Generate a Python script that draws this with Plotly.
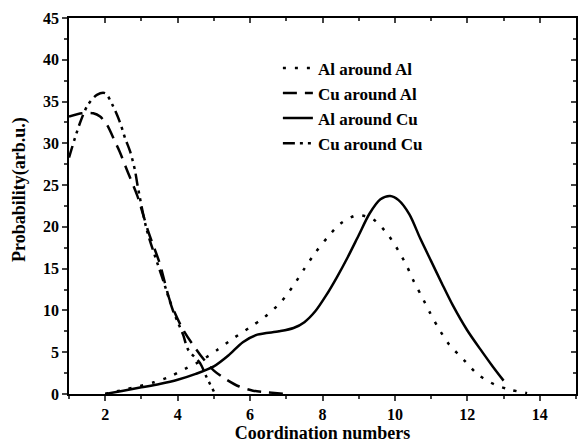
import plotly.graph_objects as go

# Al around Al (dotted)
al_al_x = [2.0, 2.5, 2.9, 3.35, 3.8, 4.2, 4.65, 5.1, 5.55, 6.0, 6.4, 6.85, 7.2, 7.5, 7.8, 8.13, 8.5, 8.96, 9.4, 9.8, 10.09, 10.33, 10.53, 10.75, 10.97, 11.2, 11.5, 11.9, 12.3, 12.77, 13.2, 13.65]
al_al_y = [0.0, 0.5, 0.9, 1.4, 2.1, 3.0, 4.0, 5.3, 6.7, 8.0, 9.2, 11.0, 13.0, 15.0, 16.9, 18.7, 20.4, 21.4, 20.9, 19.1, 17.2, 15.3, 13.4, 11.6, 9.7, 7.9, 5.9, 4.1, 2.3, 1.1, 0.5, 0.1]

# Cu around Al (dashed)
cu_al_x = [1.0, 1.36, 1.67, 1.86, 2.05, 2.27, 2.4, 2.6, 2.88, 3.2, 3.5, 3.8, 4.15, 4.62, 5.0, 5.36, 5.7, 6.08, 6.5, 7.0]
cu_al_y = [33.2, 33.6, 33.6, 33.2, 32.2, 30.2, 29.0, 26.8, 23.8, 19.3, 15.7, 11.0, 7.7, 4.7, 2.8, 1.7, 0.9, 0.4, 0.2, 0.0]

# Al around Cu (solid)
al_cu_x = [2.0, 2.5, 3.0, 3.5, 4.0, 4.5, 5.0, 5.4, 5.8, 6.2, 6.8, 7.2, 7.5, 7.8, 8.1, 8.4, 8.7, 9.0, 9.3, 9.6, 9.87, 10.1, 10.4, 10.7, 11.0, 11.3, 11.6, 12.0, 12.4, 12.7, 13.0]
al_cu_y = [0.0, 0.4, 0.8, 1.2, 1.7, 2.4, 3.3, 4.6, 6.2, 7.1, 7.5, 7.9, 8.6, 9.9, 11.8, 14.0, 16.4, 19.0, 21.6, 23.3, 23.7, 23.2, 21.5, 18.6, 15.9, 13.2, 10.6, 7.6, 5.1, 3.3, 1.6]

# Cu around Cu (dash-dot)
cu_cu_x = [1.0, 1.3, 1.52, 1.77, 2.0, 2.2, 2.4, 2.55, 2.69, 2.82, 2.9, 3.15, 3.6, 3.87, 4.15, 4.29, 4.62, 4.8, 5.0]
cu_cu_y = [28.3, 32.4, 34.6, 35.8, 36.0, 34.6, 32.6, 30.6, 29.0, 26.8, 24.8, 19.6, 13.6, 10.0, 7.1, 5.3, 3.7, 2.0, 0.3]

x_ticks = [2, 4, 6, 8, 10, 12, 14]
y_ticks = [0, 5, 10, 15, 20, 25, 30, 35, 40, 45]

font = "Liberation Serif"
fig = go.Figure()
series = [
    ("Al around Al", al_al_x, al_al_y, "3px,9px"),
    ("Cu around Al", cu_al_x, cu_al_y, "14px,8px"),
    ("Al around Cu", al_cu_x, al_cu_y, "solid"),
    ("Cu around Cu", cu_cu_x, cu_cu_y, "12px,5px,3px,5px,3px,5px"),
]
for name, xs, ys, dash in series:
    fig.add_trace(go.Scatter(x=xs, y=ys, mode="lines", name=name,
                             line=dict(color="black", width=2.5, dash=dash, shape="spline", smoothing=0.8)))

# invisible trace for mirrored inside ticks on top/right
fig.add_trace(go.Scatter(x=[1, 15], y=[0, 45], mode="lines", xaxis="x2", yaxis="y2",
                         line=dict(width=0), showlegend=False, hoverinfo="skip"))

bold = dict(family=font, color="black", weight="bold")
fig.update_layout(
    width=581, height=446,
    margin=dict(l=69, r=5, t=18, b=52),
    plot_bgcolor="white", paper_bgcolor="white",
    font=dict(family=font, size=14, color="black", weight="bold"),
    showlegend=True,
    legend=dict(x=0.412, y=0.914, xanchor="left", yanchor="top",
                bgcolor="rgba(0,0,0,0)", font=dict(size=17, **bold),
                tracegroupgap=0),
    xaxis=dict(range=[1, 15], tickvals=x_ticks, ticktext=["<b>%d</b>" % v for v in x_ticks],
               ticks="outside", ticklen=5, tickwidth=1.5,
               showline=True, linecolor="black", linewidth=1.5, showgrid=False, zeroline=False,
               minor=dict(dtick=1, tick0=1, ticks="outside", ticklen=3, tickwidth=1.5),
               tickfont=dict(size=16, **bold),
               title=dict(text="Coordination numbers", font=dict(size=18, **bold), standoff=4)),
    yaxis=dict(range=[0, 45], tickvals=y_ticks, ticktext=["<b>%d</b>" % v for v in y_ticks],
               ticks="outside", ticklen=5, tickwidth=1.5,
               showline=True, linecolor="black", linewidth=1.5, showgrid=False, zeroline=False,
               minor=dict(dtick=2.5, tick0=0, ticks="outside", ticklen=3, tickwidth=1.5),
               tickfont=dict(size=16, **bold)),
    xaxis2=dict(range=[1, 15], overlaying="x", side="top", tickvals=x_ticks, ticks="inside",
                ticklen=5, tickwidth=1.5, showticklabels=False, showline=True, linecolor="black",
                linewidth=1.5, showgrid=False, zeroline=False,
                minor=dict(dtick=1, tick0=1, ticks="inside", ticklen=3, tickwidth=1.5)),
    yaxis2=dict(range=[0, 45], overlaying="y", side="right", tickvals=y_ticks, ticks="inside",
                ticklen=5, tickwidth=1.5, showticklabels=False, showline=True, linecolor="black",
                linewidth=1.5, showgrid=False, zeroline=False,
                minor=dict(dtick=2.5, tick0=0, ticks="inside", ticklen=3, tickwidth=1.5)),
    annotations=[dict(text="Probability(arb.u.)", textangle=-90, xref="paper", yref="paper",
                      x=-0.0966, y=0.5426, xanchor="center", yanchor="middle", showarrow=False,
                      font=dict(size=18, **bold))],
)

fig.write_html("out.html", config={"displayModeBar": False},
               post_script="document.body.style.margin='0';")
